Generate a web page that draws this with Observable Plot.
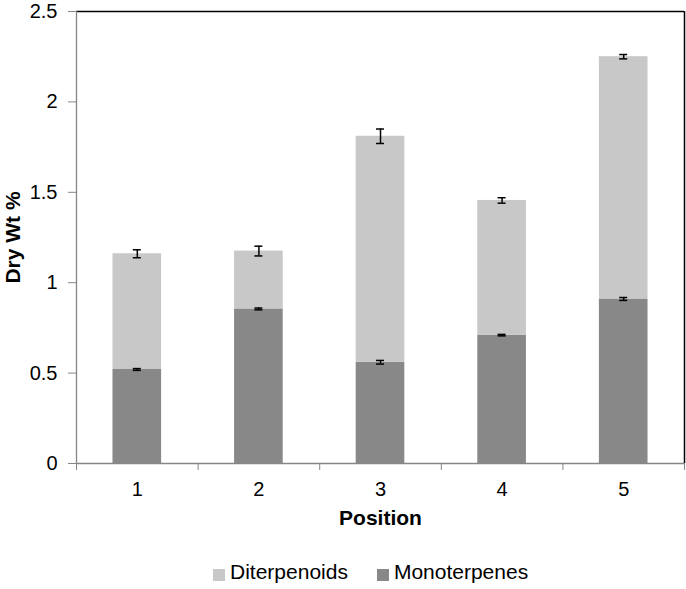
<!DOCTYPE html>
<html>
<head>
<meta charset="utf-8">
<script src="https://cdn.jsdelivr.net/npm/d3@7"></script>
<script src="https://cdn.jsdelivr.net/npm/@observablehq/plot@0.6"></script>
<style>
  body { margin: 0; background: #fff; font-family: "Liberation Sans", Arial, sans-serif; }
  #wrap { position: relative; width: 686px; height: 589px; }
  #legend { position: absolute; left: 213px; top: 560px; display: flex; align-items: center; font-size: 21px; color: #000; line-height: 24px; }
  .sw { width: 12px; height: 12px; margin-right: 5px; position: relative; top: 3px; }
  .item { display: flex; align-items: center; margin-right: 29px; }
</style>
</head>
<body>
<div id="wrap"></div>
<script>
const positions = [1, 2, 3, 4, 5];
const monoterpenes = [0.52, 0.855, 0.56, 0.71, 0.91];
const monoErr = [0.005, 0.005, 0.01, 0.004, 0.008];
const diterpenoids = [0.64, 0.32, 1.25, 0.745, 1.34];
const totalErr = [0.022, 0.027, 0.04, 0.015, 0.012];
const yTicks = [0, 0.5, 1, 1.5, 2, 2.5];
const seriesNames = ["Diterpenoids", "Monoterpenes"];
const colors = ["#c8c8c8", "#888888"];

const rows = positions.map((p, i) => ({
  pos: p,
  mono: monoterpenes[i],
  monoErr: monoErr[i],
  total: monoterpenes[i] + diterpenoids[i],
  totalErr: totalErr[i]
}));

const halfBar = 0.2;
const font = "'Liberation Sans', Arial, sans-serif";

const chart = Plot.plot({
  width: 686,
  height: 545,
  marginTop: 11,
  marginBottom: 82,
  marginLeft: 76,
  marginRight: 2,
  style: { fontFamily: font, background: "#fff", color: "#000" },
  x: { domain: [0.5, 5.5], axis: null },
  y: { domain: [0, 2.5], axis: null },
  marks: [
    // bars
    Plot.rectY(rows, { x1: d => d.pos - halfBar, x2: d => d.pos + halfBar, y1: 0, y2: "mono", fill: colors[1] }),
    Plot.rectY(rows, { x1: d => d.pos - halfBar, x2: d => d.pos + halfBar, y1: "mono", y2: "total", fill: colors[0] }),
    // frame lines
    Plot.ruleY([2.5], { stroke: "#000", strokeWidth: 1.5 }),
    Plot.ruleX([5.5], { stroke: "#000", strokeWidth: 1.5 }),
    Plot.ruleX([0.5], { stroke: "#868686", strokeWidth: 1.3 }),
    Plot.ruleY([0], { stroke: "#868686", strokeWidth: 1.3 }),
    // y axis
    Plot.axisY({ ticks: yTicks, tickSize: 8, tickPadding: 11, tickFormat: d => String(d), stroke: "#868686", fontSize: 20, fill: "#000", label: null }),
    // x axis: labels at centers, ticks at boundaries
    Plot.axisX({ ticks: positions, tickSize: 0, tickPadding: 18, tickFormat: d => String(d), fontSize: 20, fill: "#000", label: null }),
    Plot.axisX({ ticks: [0.5, 1.5, 2.5, 3.5, 4.5, 5.5], tickSize: 7, tickFormat: () => "", stroke: "#868686", label: null }),
    // error bars: totals
    Plot.ruleX(rows, { x: "pos", y1: d => d.total - d.totalErr, y2: d => d.total + d.totalErr, stroke: "#000", strokeWidth: 1.5 }),
    Plot.ruleY(rows, { x1: "pos", x2: "pos", y: d => d.total - d.totalErr, insetLeft: -4, insetRight: -4, stroke: "#000", strokeWidth: 1.5 }),
    Plot.ruleY(rows, { x1: "pos", x2: "pos", y: d => d.total + d.totalErr, insetLeft: -4, insetRight: -4, stroke: "#000", strokeWidth: 1.5 }),
    // error bars: monoterpenes
    Plot.ruleX(rows, { x: "pos", y1: d => d.mono - d.monoErr, y2: d => d.mono + d.monoErr, stroke: "#000", strokeWidth: 1.5 }),
    Plot.ruleY(rows, { x1: "pos", x2: "pos", y: d => d.mono - d.monoErr, insetLeft: -4, insetRight: -4, stroke: "#000", strokeWidth: 1.5 }),
    Plot.ruleY(rows, { x1: "pos", x2: "pos", y: d => d.mono + d.monoErr, insetLeft: -4, insetRight: -4, stroke: "#000", strokeWidth: 1.5 }),
    // axis titles
    Plot.text(["Position"], { frameAnchor: "bottom", lineAnchor: "middle", textAnchor: "middle", dy: 55, fontSize: 21, fontWeight: "bold", fill: "#000" }),
    Plot.text(["Dry Wt %"], { frameAnchor: "left", lineAnchor: "middle", textAnchor: "middle", dx: -63, rotate: -90, fontSize: 21, fontWeight: "bold", fill: "#000" })
  ]
});

const wrap = document.getElementById("wrap");
wrap.appendChild(chart);

const legend = document.createElement("div");
legend.id = "legend";
seriesNames.forEach((name, i) => {
  const item = document.createElement("div");
  item.className = "item";
  const sw = document.createElement("div");
  sw.className = "sw";
  sw.style.background = colors[i];
  const label = document.createElement("span");
  label.textContent = name;
  item.appendChild(sw);
  item.appendChild(label);
  legend.appendChild(item);
});
wrap.appendChild(legend);
</script>
</body>
</html>
